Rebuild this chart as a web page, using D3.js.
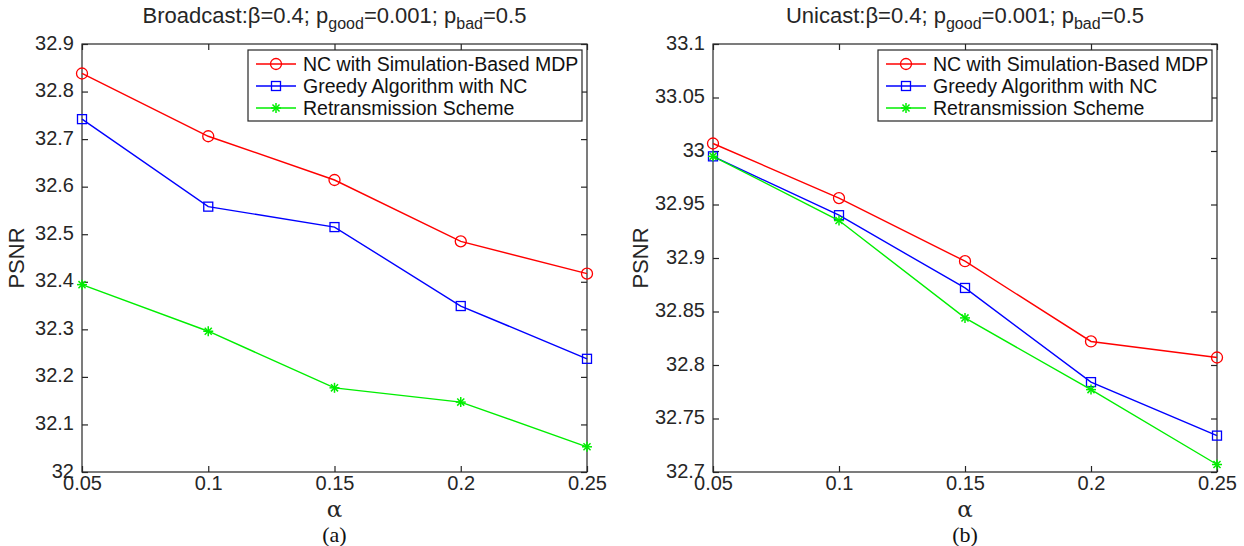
<!DOCTYPE html>
<html>
<head>
<meta charset="utf-8">
<script src="https://cdn.jsdelivr.net/npm/d3@7"></script>
<style>
  body { margin: 0; background: #fff; }
  svg { display: block; font-family: "Liberation Sans", Arial, sans-serif; }
</style>
</head>
<body>
<svg id="chart"></svg>
<script>
// alpha values on the x axis
var alphas = [0.05, 0.1, 0.15, 0.2, 0.25];
var xTicks = [0.05, 0.1, 0.15, 0.2, 0.25];

// (a) broadcast
var bcMdp    = [32.838, 32.706, 32.614, 32.485, 32.417];
var bcGreedy = [32.742, 32.558, 32.515, 32.349, 32.238];
var bcRetx   = [32.394, 32.296, 32.177, 32.147, 32.053];
var bcTicks  = [32, 32.1, 32.2, 32.3, 32.4, 32.5, 32.6, 32.7, 32.8, 32.9];

// (b) unicast
var ucMdp    = [33.007, 32.956, 32.897, 32.822, 32.807];
var ucGreedy = [32.995, 32.940, 32.872, 32.784, 32.734];
var ucRetx   = [32.995, 32.935, 32.844, 32.777, 32.707];
var ucTicks  = [32.7, 32.75, 32.8, 32.85, 32.9, 32.95, 33, 33.05, 33.1];

var seriesNames = ["NC with Simulation-Based MDP", "Greedy Algorithm with NC", "Retransmission Scheme"];
var seriesColors = ["#ff0000", "#0000ff", "#00ee00"];
var seriesMarkers = ["circle", "square", "star"];

var width = 1244;
var height = 546;

var svg = d3.select("#chart")
    .attr("width", width)
    .attr("height", height);

function drawMarker(g, kind, x, y, color) {
  if (kind == "circle") {
    g.append("circle").attr("cx", x).attr("cy", y).attr("r", 5.5)
      .attr("fill", "none").attr("stroke", color).attr("stroke-width", 1.3);
  } else if (kind == "square") {
    g.append("rect").attr("x", x - 4.5).attr("y", y - 4.5)
      .attr("width", 9).attr("height", 9)
      .attr("fill", "none").attr("stroke", color).attr("stroke-width", 1.3);
  } else {
    var r = 5;
    [0, 45, 90, 135].forEach(function(a) {
      var dx = r * Math.cos(a * Math.PI / 180), dy = r * Math.sin(a * Math.PI / 180);
      g.append("line").attr("x1", x - dx).attr("y1", y - dy).attr("x2", x + dx).attr("y2", y + dy)
        .attr("stroke", color).attr("stroke-width", 1.5);
    });
  }
}

function drawPanel(opts) {
  var left = opts.left, right = opts.right, top = 44, bottom = 472;

  var x = d3.scaleLinear().domain([0.05, 0.25]).range([left, right]);
  var y = d3.scaleLinear().domain(opts.yDomain).range([bottom, top]);

  var g = svg.append("g");

  // box with inward ticks on all sides, like matlab
  g.append("rect")
    .attr("x", left).attr("y", top)
    .attr("width", right - left).attr("height", bottom - top)
    .attr("fill", "none").attr("stroke", "#262626").attr("stroke-width", 1.2);

  var xAxis = d3.axisBottom(x).tickValues(xTicks).tickSize(-6).tickPadding(8)
    .tickFormat(d3.format("~g"));
  var gx = g.append("g").attr("transform", "translate(0," + bottom + ")").call(xAxis);
  g.append("g").attr("transform", "translate(0," + top + ")")
    .call(d3.axisTop(x).tickValues(xTicks).tickSize(-6).tickFormat(""));

  var yAxis = d3.axisLeft(y).tickValues(opts.yTicks).tickSize(-6).tickPadding(8)
    .tickFormat(d3.format("~g"));
  var gy = g.append("g").attr("transform", "translate(" + left + ",0)").call(yAxis);
  g.append("g").attr("transform", "translate(" + right + ",0)")
    .call(d3.axisRight(y).tickValues(opts.yTicks).tickSize(-6).tickFormat(""));

  g.selectAll(".domain").remove();
  g.selectAll(".tick line").attr("stroke", "#262626").attr("stroke-width", 1.2);
  g.selectAll(".tick text").attr("fill", "#262626").style("font-size", "20px")
    .style("font-family", "Liberation Sans, Arial, sans-serif");
  gx.selectAll(".tick text").attr("dy", "0.5em");
  gy.selectAll(".tick text").attr("dy", "0.25em");

  // lines + markers
  opts.series.forEach(function(vals, i) {
    var pts = alphas.map(function(a, j) { return [x(a), y(vals[j])]; });
    g.append("path")
      .attr("d", d3.line()(pts))
      .attr("fill", "none")
      .attr("stroke", seriesColors[i])
      .attr("stroke-width", 1.4);
    pts.forEach(function(p) { drawMarker(g, seriesMarkers[i], p[0], p[1], seriesColors[i]); });
  });

  // title
  var cx = (left + right) / 2;
  var t = g.append("text").attr("x", cx).attr("y", 23)
    .attr("text-anchor", "middle").attr("fill", "#262626").style("font-size", "22px");
  t.append("tspan").text(opts.label + ":\u03b2=0.4; p");
  t.append("tspan").attr("dy", 6).style("font-size", "16px").text("good");
  t.append("tspan").attr("dy", -6).text("=0.001; p");
  t.append("tspan").attr("dy", 6).style("font-size", "16px").text("bad");
  t.append("tspan").attr("dy", -6).text("=0.5");

  // axis labels
  g.append("text").attr("x", cx).attr("y", 517)
    .attr("text-anchor", "middle").attr("fill", "#262626")
    .style("font-family", "DejaVu Serif, serif").style("font-size", "23px").text("\u03b1");
  g.append("text")
    .attr("transform", "translate(" + opts.ylabelX + "," + ((top + bottom) / 2) + ") rotate(-90)")
    .attr("text-anchor", "middle").attr("fill", "#262626").style("font-size", "22px").text("PSNR");
  g.append("text").attr("x", cx).attr("y", 542)
    .attr("text-anchor", "middle").attr("fill", "#111")
    .style("font-family", "Liberation Serif, Times New Roman, serif").style("font-size", "22px")
    .text(opts.caption);

  // legend
  var lw = 334, lh = 71;
  var lx = right - 5 - lw, ly = 50;
  var lg = g.append("g");
  lg.append("rect").attr("x", lx).attr("y", ly).attr("width", lw).attr("height", lh)
    .attr("fill", "#fff").attr("stroke", "#262626").attr("stroke-width", 1.2);
  seriesNames.forEach(function(name, i) {
    var yy = ly + 14 + i * 22;
    lg.append("line").attr("x1", lx + 8).attr("x2", lx + 48).attr("y1", yy).attr("y2", yy)
      .attr("stroke", seriesColors[i]).attr("stroke-width", 1.4);
    drawMarker(lg, seriesMarkers[i], lx + 28, yy, seriesColors[i]);
    lg.append("text").attr("x", lx + 55).attr("y", yy).attr("dy", "0.35em")
      .attr("fill", "#111").style("font-size", "19.5px").text(name);
  });
}

drawPanel({
  left: 82, right: 587, label: "Broadcast", caption: "(a)", ylabelX: 24,
  yDomain: [32, 32.9], yTicks: bcTicks,
  series: [bcMdp, bcGreedy, bcRetx]
});

drawPanel({
  left: 713, right: 1217, label: "Unicast", caption: "(b)", ylabelX: 648,
  yDomain: [32.7, 33.1], yTicks: ucTicks,
  series: [ucMdp, ucGreedy, ucRetx]
});
</script>
</body>
</html>
